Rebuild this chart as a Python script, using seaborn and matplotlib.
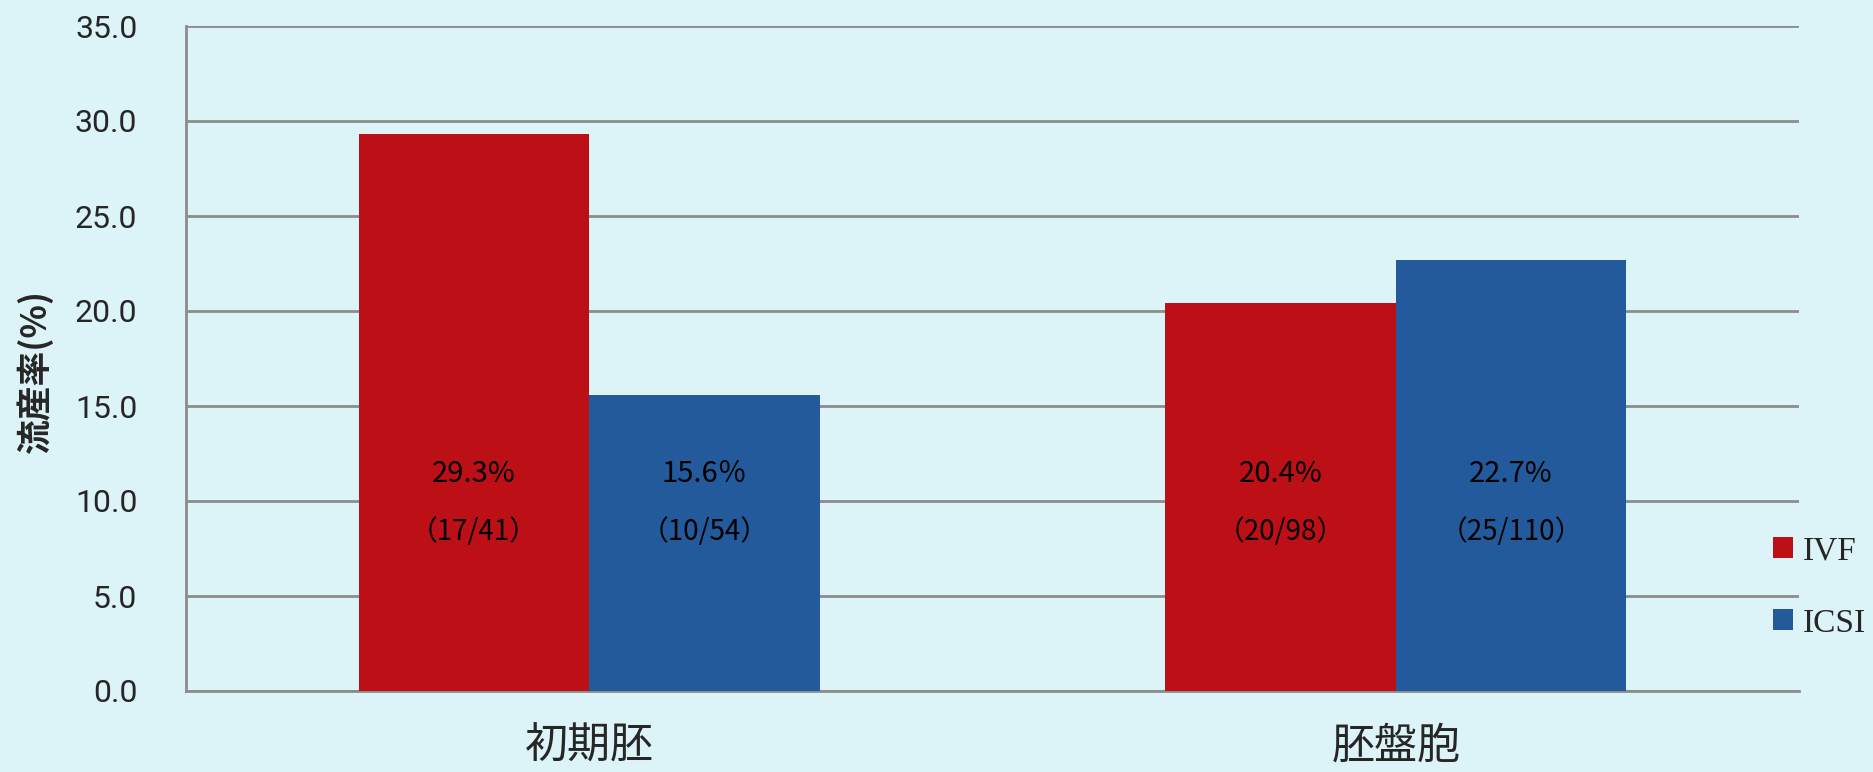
import matplotlib
matplotlib.use("Agg")
import matplotlib.pyplot as plt
from matplotlib.patches import Patch
import seaborn as sns
import pandas as pd

# Miscarriage rate by embryo stage and fertilisation method
stages = ["初期胚", "胚盤胞"]
methods = ["IVF", "ICSI"]
ivf_rates = [29.3, 20.4]
icsi_rates = [15.6, 22.7]
rate_labels = {"IVF": ["29.3%", "20.4%"], "ICSI": ["15.6％", "22.7%"]}
count_labels = {"IVF": ["（17/41）", "（20/98）"], "ICSI": ["（10/54）", "（25/110）"]}
y_ticks = [0, 5, 10, 15, 20, 25, 30, 35]

BG = "#DCF4F8"
RED = "#BC1016"
BLUE = "#225A9B"
GRID = "#8C8C8C"
JP = ["Noto Sans CJK JP", "DejaVu Sans"]

df = pd.DataFrame({
    "stage": stages * 2,
    "method": [methods[0]] * len(stages) + [methods[1]] * len(stages),
    "rate": ivf_rates + icsi_rates,
})

sns.set_theme(style="white")
plt.rcParams["font.family"] = JP

fig = plt.figure(figsize=(18.74, 7.72), dpi=100, facecolor=BG)
ax = fig.add_axes([186 / 1874, 1 - 691 / 772, (1799 - 186) / 1874, (691 - 26) / 772])
ax.set_facecolor(BG)

sns.barplot(data=df, x="stage", y="rate", hue="method", order=stages,
            hue_order=methods, palette=[RED, BLUE], width=0.572,
            saturation=1, linewidth=0, legend=False, ax=ax, zorder=3)

# two-line value labels inside each bar
for method, container in zip(methods, ax.containers):
    for i, bar in enumerate(container):
        cx = bar.get_x() + bar.get_width() / 2
        ax.text(cx, 11.4, rate_labels[method][i], ha="center", va="center",
                fontsize=21, color="black", family=JP, zorder=4)
        ax.text(cx, 8.35, count_labels[method][i], ha="center", va="center",
                fontsize=20, color="black", family=JP, zorder=4)

ax.set_xlim(-0.5, 1.5)
ax.set_ylim(0, 35)
ax.set_yticks(y_ticks)
ax.set_yticklabels([f"{v:.1f}" for v in y_ticks], family="Roboto", fontsize=23)
ax.yaxis.grid(True, color=GRID, linewidth=2)
ax.set_axisbelow(True)

# category separators below the axis
ax.set_xticks([-0.5, 0.5, 1.5], minor=True)
ax.tick_params(axis="x", which="minor", length=14, width=1.5, color=GRID, direction="out")
ax.tick_params(axis="x", which="major", length=0, pad=24, labelsize=31)
ax.tick_params(axis="y", which="major", length=9, width=2, color=GRID, direction="out", pad=26)
ax.set_xlabel("")

for name in ["top", "right"]:
    ax.spines[name].set_visible(False)
for name in ["left", "bottom"]:
    ax.spines[name].set_color(GRID)
    ax.spines[name].set_linewidth(2)

ax.set_ylabel("流産率(%)", fontsize=25, family=JP, weight="bold")
ax.yaxis.set_label_coords(-0.094, 0.48)
ax.yaxis.label.set_va("center")
ax.yaxis.label.set_ha("center")

handles = [Patch(facecolor=RED, edgecolor="none", label="IVF"),
           Patch(facecolor=BLUE, edgecolor="none", label="ICSI")]
ax.legend(handles=handles, loc="center left", bbox_to_anchor=(0.984, 0.156),
          frameon=False, borderpad=0, borderaxespad=0, handlelength=0.6,
          handleheight=0.6, handletextpad=0.3, labelspacing=1.25,
          prop={"family": "Liberation Serif", "size": 24})

fig.savefig("out.png", dpi=100, facecolor=BG)
